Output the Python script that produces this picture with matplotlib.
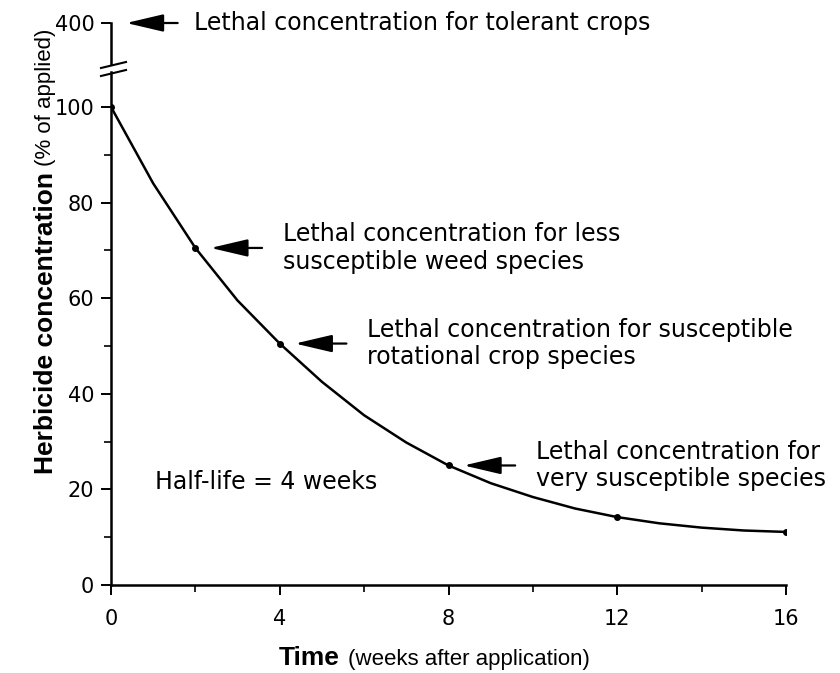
import matplotlib
matplotlib.use("Agg")
import matplotlib.pyplot as plt
from matplotlib.lines import Line2D

# Podaci ocitani sa slike
curve_weeks = [0, 1, 2, 3, 4, 5, 6, 7, 8, 9, 10, 11, 12, 13, 14, 15, 16]
curve_conc = [100, 84, 70.5, 59.5, 50.5, 42.5, 35.5, 29.8, 25, 21.3, 18.4, 16.0, 14.2, 12.9, 12.0, 11.4, 11.1]

point_weeks = [0, 2, 4, 8, 12, 16]
point_conc = [100, 70.5, 50.5, 25, 14.2, 11.1]

x_major = [0, 4, 8, 12, 16]
x_minor = [2, 6, 10, 14]
y_major = [0, 20, 40, 60, 80, 100]
y_minor = [10, 30, 50, 70, 90]

# (tacka na krivoj, tekst)
lethal_labels = [
    (2, 70.5, "Lethal concentration for less\nsusceptible weed species"),
    (4, 50.5, "Lethal concentration for susceptible\nrotational crop species"),
    (8, 25, "Lethal concentration for\nvery susceptible species"),
]
tolerant_level = 400
tolerant_label = "Lethal concentration for tolerant crops"
half_life_text = "Half-life = 4 weeks"

W, H = 840, 673
fig = plt.figure(figsize=(W / 100, H / 100), dpi=100)


def fx(x):
    return x / W


def fy(y):
    return 1 - y / H


arrow_style = dict(arrowstyle='-|>,head_length=1.15,head_width=0.27', mutation_scale=20,
                   lw=1.6, color='black', shrinkA=0, shrinkB=11)

# Glavni grafik
ax = fig.add_axes([fx(111), fy(585), fx(786) - fx(111), (585 - 72) / H])
ax.plot(curve_weeks, curve_conc, color='black', lw=1.8)
ax.plot(point_weeks, point_conc, 'o', color='black', ms=4)
ax.set_xlim(0, 16)
ax.set_ylim(0, 107.3)
for s in ['top', 'right']:
    ax.spines[s].set_visible(False)
for s in ['left', 'bottom']:
    ax.spines[s].set_linewidth(1.8)
ax.set_xticks(x_major)
ax.set_xticks(x_minor, minor=True)
ax.set_yticks(y_major)
ax.set_yticks(y_minor, minor=True)
ax.tick_params(which='major', length=7, width=1.4, labelsize=15)
ax.tick_params(which='minor', length=5, width=1.2)
ax.tick_params(axis='x', which='major', pad=10)
ax.tick_params(axis='y', which='major', pad=5)

for t, v, label in lethal_labels:
    ax.annotate('', xy=(t, v), xytext=(48, 0), textcoords='offset points', arrowprops=arrow_style)
    ax.annotate(label, xy=(t, v), xytext=(63, 0), textcoords='offset points',
                va='center', ha='left', fontsize=17)

ax.text(1.04, 21.5, half_life_text, va='center', ha='left', fontsize=17)

# Gornji deo ose (400)
axt = fig.add_axes([fx(111), fy(64), 0.1, (64 - 23) / H])
axt.patch.set_visible(False)
for s in ['top', 'right', 'bottom']:
    axt.spines[s].set_visible(False)
axt.spines['left'].set_linewidth(1.8)
axt.set_xlim(0, 1)
axt.set_ylim(380, 400)
axt.set_xticks([])
axt.set_yticks([tolerant_level])
axt.tick_params(length=7, width=1.4, labelsize=15, pad=5)
axt.annotate('', xy=(0, tolerant_level), xytext=(48, 0), textcoords='offset points',
             arrowprops=arrow_style)
axt.annotate(tolerant_label, xy=(0, tolerant_level), xytext=(60, 0), textcoords='offset points',
             va='center', ha='left', fontsize=17)

# Prekid ose
for y0 in [68, 76]:
    fig.add_artist(Line2D([fx(101), fx(126)], [fy(y0), fy(y0 - 6)], color='black', lw=1.5))

# Nazivi osa
fig.text(fx(46), fy(474), "Herbicide concentration", rotation=90, ha='center', va='bottom',
         fontsize=19, fontweight='bold', family='Liberation Sans')
fig.text(fx(46), fy(166), "(% of applied)", rotation=90, ha='center', va='bottom',
         fontsize=16, family='Liberation Sans')
fig.text(fx(279), fy(665), "Time", ha='left', va='baseline',
         fontsize=19, fontweight='bold', family='Liberation Sans')
fig.text(fx(348), fy(665), "(weeks after application)", ha='left', va='baseline',
         fontsize=16, family='Liberation Sans')

fig.savefig("out.png", dpi=100)
